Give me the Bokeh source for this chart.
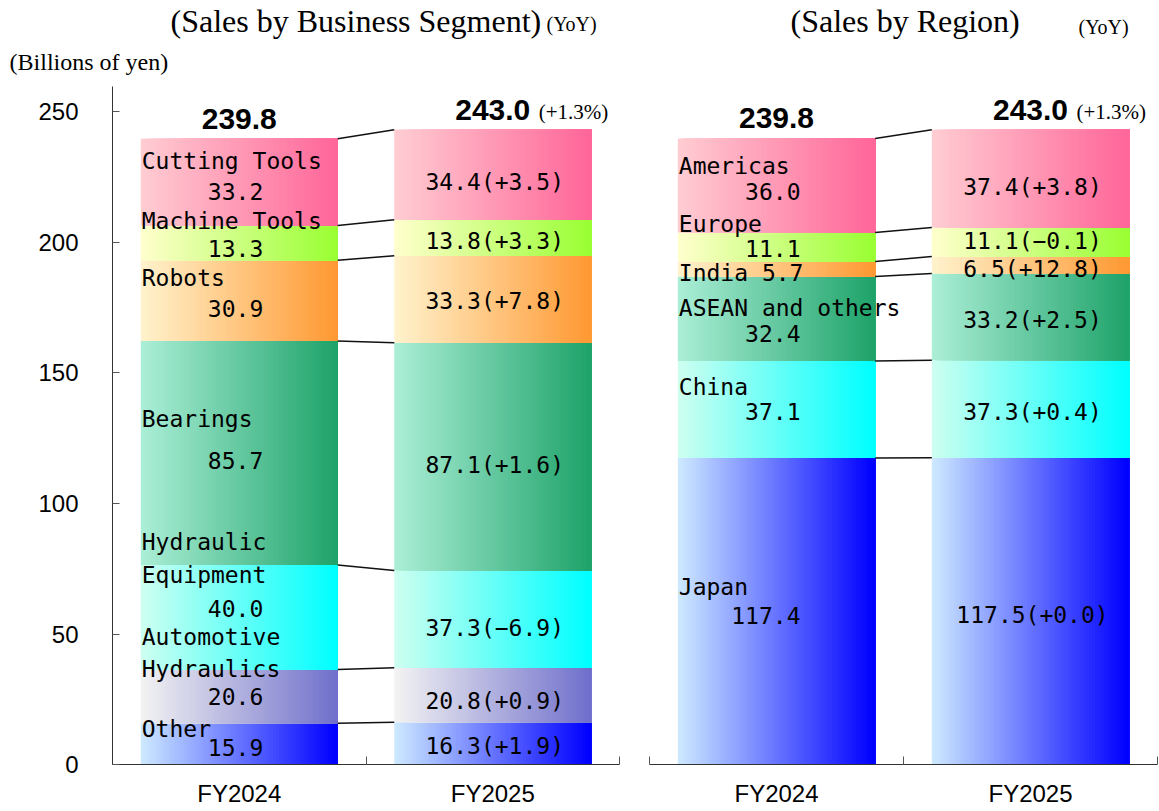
import numpy as np
from bokeh.plotting import figure
from bokeh.models import ColumnDataSource, Range1d, FixedTicker
from bokeh.layouts import row
from bokeh.embed import file_html
from bokeh.resources import INLINE
from bokeh.core.properties import value

# ---------------- data ----------------
years = ["FY2024", "FY2025"]

seg_names = ["Other", "Automotive Hydraulics", "Hydraulic Equipment", "Bearings",
             "Robots", "Machine Tools", "Cutting Tools"]
seg_fy2024 = [15.9, 20.6, 40.0, 85.7, 30.9, 13.3, 33.2]
seg_fy2025 = [16.3, 20.8, 37.3, 87.1, 33.3, 13.8, 34.4]
seg_yoy = ["+1.9", "+0.9", "\u22126.9", "+1.6", "+7.8", "+3.3", "+3.5"]
seg_totals = ["239.8", "243.0"]

reg_names = ["Japan", "China", "ASEAN and others", "India", "Europe", "Americas"]
reg_fy2024 = [117.4, 37.1, 32.4, 5.7, 11.1, 36.0]
reg_fy2025 = [117.5, 37.3, 33.2, 6.5, 11.1, 37.4]
reg_yoy = ["+0.0", "+0.4", "+2.5", "+12.8", "\u22120.1", "+3.8"]
reg_totals = ["239.8", "243.0"]

total_yoy = "(+1.3%)"
y_ticks = [0, 50, 100, 150, 200, 250]

# ---------------- styles / layout ----------------
GRAD = {
    "pink":   ("#FFCCD2", "#FF6699"),
    "lime":   ("#FFFFCC", "#99FF33"),
    "orange": ("#FFF2CC", "#FF9933"),
    "green":  ("#AAEED6", "#1FA36A"),
    "cyan":   ("#CCFFF0", "#00FFFF"),
    "lav":    ("#F2F2F2", "#7070CC"),
    "blue":   ("#CCE8FF", "#0000FF"),
}
seg_colors = ["blue", "lav", "cyan", "green", "orange", "lime", "pink"]
reg_colors = ["blue", "cyan", "green", "orange", "lime", "pink"]

# label text lines and vertical positions (axis units)
seg_name_lines = [["Other"], ["Automotive", "Hydraulics"], ["Hydraulic", "Equipment"],
                  ["Bearings"], ["Robots"], ["Machine Tools"], ["Cutting Tools"]]
seg_name_y = [[13.7], [48.9, 36.6], [85.1, 72.5], [132.4], [186.3], [208.0], [231.0]]
seg_val24_y = [6.8, 26.1, 59.9, 116.4, 174.5, 197.7, 219.5]
seg_val25_y = [7.3, 24.4, 52.4, 114.9, 177.5, 200.4, 222.9]

reg_name_lines = [["Japan"], ["China"], ["ASEAN and others"], ["India 5.7"], ["Europe"], ["Americas"]]
reg_name_y = [[68.1], [144.7], [174.9], [188.3], [206.9], [229.0]]
reg_val24_y = [57.3, 135.1, 165.0, None, 197.7, 219.5]
reg_val25_y = [57.3, 135.1, 170.2, 189.7, 200.4, 221.0]

CENTERS = [0.5, 1.5]
BW = 0.777
N_STRIPS = 64
LABEL_FONT = value("DejaVu Sans Mono")
LABEL_SIZE = "23px"
Y_AXIS_TOP = 259.6
FIG_H = 810
PX_Y = 2.613          # pixels per billion yen
AXIS_Y_PX = 764.3     # pixel row of value 0


def hex2rgb(h):
    return np.array([int(h[i:i + 2], 16) for i in (1, 3, 5)], dtype=float)


def lerp_hex(c0, c1, t):
    c = hex2rgb(c0) * (1 - t) + hex2rgb(c1) * t
    return "#%02x%02x%02x" % tuple(int(round(v)) for v in c)


def make_fig(width, axis_left_px, px_x, has_y):
    xr = Range1d(-axis_left_px / px_x, (width - axis_left_px) / px_x)
    yr = Range1d(-(FIG_H - AXIS_Y_PX) / PX_Y, AXIS_Y_PX / PX_Y)
    p = figure(width=width, height=FIG_H, x_range=xr, y_range=yr,
               output_backend="svg", toolbar_location=None, tools="",
               min_border=0, min_border_left=0, min_border_right=0,
               min_border_top=0, min_border_bottom=0,
               y_axis_location="left" if has_y else None,
               background_fill_color="white", border_fill_color="white")
    p.outline_line_color = None
    p.xgrid.visible = False
    p.ygrid.visible = False
    ax = p.xaxis[0]
    ax.fixed_location = 0
    ax.bounds = (0, 2)
    ax.ticker = FixedTicker(ticks=CENTERS, minor_ticks=[0, 1, 2])
    ax.major_label_overrides = {0.5: years[0], 1.5: years[1]}
    ax.major_tick_in = 0
    ax.major_tick_out = 0
    ax.minor_tick_in = 8
    ax.minor_tick_out = 0
    ax.minor_tick_line_color = "#555555"
    ax.axis_line_color = "#333333"
    ax.major_label_text_font = "Liberation Sans"
    ax.major_label_text_font_size = "24px"
    ax.major_label_text_color = "black"
    ax.major_label_standoff = 15
    if has_y:
        ay = p.yaxis[0]
        ay.fixed_location = 0
        ay.bounds = (0, Y_AXIS_TOP)
        ay.ticker = FixedTicker(ticks=y_ticks)
        ay.major_tick_in = 7
        ay.major_tick_out = 0
        ay.minor_tick_in = 0
        ay.minor_tick_out = 0
        ay.major_tick_line_color = "#555555"
        ay.axis_line_color = "#333333"
        ay.major_label_text_font = "Liberation Sans"
        ay.major_label_text_font_size = "24px"
        ay.major_label_text_color = "black"
        ay.major_label_standoff = 34
    return p


def draw_panel(p, v24, v25, yoy, totals, colors, name_lines, name_y, val24_y, val25_y):
    series = [np.array(v24), np.array(v25)]
    cums = [np.cumsum(s) for s in series]
    # gradient bars (overlapping strips, painted left to right)
    L, R, B, T, C = [], [], [], [], []
    for yi, xc in enumerate(CENTERS):
        left, right = xc - BW / 2, xc + BW / 2
        for j in range(len(series[yi])):
            top = cums[yi][j]
            bot = top - series[yi][j]
            c0, c1 = GRAD[colors[j]]
            for k in range(N_STRIPS):
                t = k / (N_STRIPS - 1)
                L.append(left + (right - left) * k / N_STRIPS)
                R.append(right)
                B.append(bot)
                T.append(top)
                C.append(lerp_hex(c0, c1, t))
    p.quad(left="l", right="r", bottom="b", top="t", fill_color="c", line_color=None,
           source=ColumnDataSource(dict(l=L, r=R, b=B, t=T, c=C)))
    # connector lines between bars at every boundary
    n = len(v24)
    p.segment(x0=[CENTERS[0] + BW / 2] * n, y0=list(cums[0]),
              x1=[CENTERS[1] - BW / 2] * n, y1=list(cums[1]),
              line_color="#111111", line_width=1.5)
    # FY2024 name labels
    nx, ny, nt = [], [], []
    for lines, ys in zip(name_lines, name_y):
        for txt, yy in zip(lines, ys):
            nx.append(CENTERS[0] - BW / 2)
            ny.append(yy)
            nt.append(txt)
    p.text(x=nx, y=ny, text=nt, text_font=LABEL_FONT, text_font_size=LABEL_SIZE,
           text_align="left", text_baseline="middle", x_offset=1, text_color="black")
    # FY2024 values
    vx, vy, vt = [], [], []
    for j in range(n):
        if val24_y[j] is None:
            continue
        vx.append(CENTERS[0])
        vy.append(val24_y[j])
        vt.append("%.1f" % v24[j])
    p.text(x=vx, y=vy, text=vt, text_font=LABEL_FONT, text_font_size=LABEL_SIZE,
           text_align="right", text_baseline="middle", x_offset=24, text_color="black")
    # FY2025 values with YoY
    p.text(x=[CENTERS[1]] * n, y=val25_y,
           text=["%.1f(%s)" % (v25[j], yoy[j]) for j in range(n)],
           text_font=LABEL_FONT, text_font_size=LABEL_SIZE,
           text_align="center", text_baseline="middle", x_offset=2, text_color="black")
    # totals
    tops = [cums[0][-1], cums[1][-1]]
    p.text(x=CENTERS, y=tops, text=totals, text_font=value("Liberation Sans"),
           text_font_style="bold", text_font_size="30px", text_align="center",
           text_baseline="middle", y_offset=-20, text_color="black")
    p.text(x=[CENTERS[1]], y=[tops[1]], text=[total_yoy], text_font=value("Liberation Serif"),
           text_font_size="21px", text_align="left", text_baseline="middle",
           x_offset=46, y_offset=-18, text_color="black")


def add_text(p, x, y, text, size, font="Liberation Serif"):
    p.text(x=[x], y=[y], text=[text], text_font=value(font), text_font_size=size,
           text_align="left", text_baseline="middle", text_color="black")


# left panel: canvas x 0..636, axis from x=112 (value 0) to 619 (value 2)
p1 = make_fig(636, 112, 253.5, True)
draw_panel(p1, seg_fy2024, seg_fy2025, seg_yoy, seg_totals, seg_colors,
           seg_name_lines, seg_name_y, seg_val24_y, seg_val25_y)
add_text(p1, 0.229, 284.8, "(Sales by Business Segment)", "32px")
add_text(p1, 1.712, 283.5, "(YoY)", "20px")
add_text(p1, -0.406, 268.8, "(Billions of yen)", "24px")

# right panel: canvas x 636..1158, axis from 649 to 1157
p2 = make_fig(522, 13, 254.0, False)
draw_panel(p2, reg_fy2024, reg_fy2025, reg_yoy, reg_totals, reg_colors,
           reg_name_lines, reg_name_y, reg_val24_y, reg_val25_y)
add_text(p2, 0.555, 284.8, "(Sales by Region)", "32px")
add_text(p2, 1.689, 282.3, "(YoY)", "20px")

layout = row(p1, p2, spacing=0)
open("out.html", "w").write(file_html(layout, INLINE, "Sales"))
